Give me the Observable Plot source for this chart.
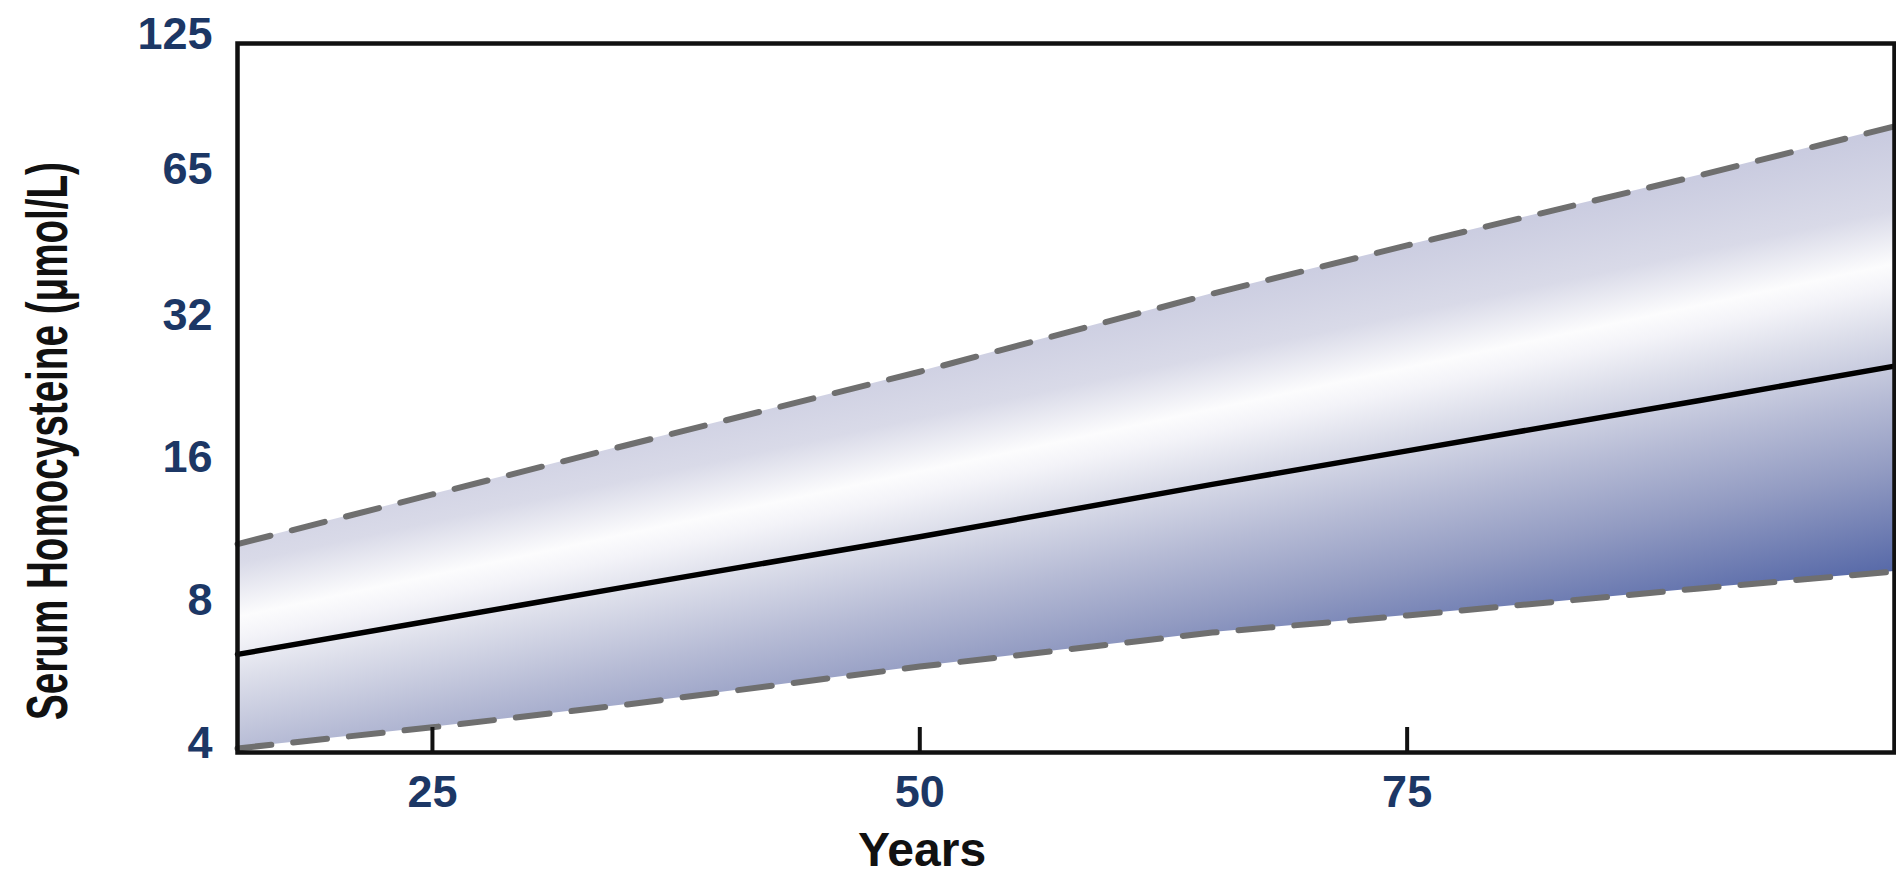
<!DOCTYPE html>
<html><head><meta charset="utf-8">
<script src="https://cdn.jsdelivr.net/npm/d3@7"></script>
<script src="https://cdn.jsdelivr.net/npm/@observablehq/plot@0.6"></script>
<style>html,body{margin:0;padding:0;background:#fff;} #chart svg{display:block}</style>
</head><body><div id="chart"></div>
<script>
// Data
const years = [15, 25, 35, 50, 65, 75, 90, 100];
const upper = [11.0, 14.0, 17.8, 25.4, 37.1, 46.9, 65.9, 83.6];
const mean  = [6.44, 7.59, 8.95, 11.4, 14.7, 17.3, 22.1, 26.1];
const lower = [4.08, 4.52, 5.05, 6.07, 7.16, 7.78, 8.87, 9.63];
const xTicks = [25, 50, 75];
const yTicks = [4, 8, 16, 32, 65, 125];
const yTickLabels = ["4", "8", "16", "32", "65", "125"];
const xTitle = "Years";
const yTitle = "Serum Homocysteine (μmol/L)";

const rows = years.map((yr, i) => ({year: yr, upper: upper[i], mean: mean[i], lower: lower[i]}));

const gradStops = [
  [0.00, "#c8cadf"], [0.19, "#d9dae8"], [0.31, "#fcfcfd"], [0.36, "#f3f3f8"],
  [0.45, "#dcdeea"], [0.61, "#b6bbd5"], [0.77, "#929bc2"], [1.00, "#5769a8"]
];

function bandGradient(index, scales) {
  const ns = "http://www.w3.org/2000/svg";
  const X = scales.x, Y = scales.y;
  const n = years.length - 1;
  const slope = ((Y(upper[n]) - Y(upper[0])) + (Y(mean[n]) - Y(mean[0]))) / 2 / (X(years[n]) - X(years[0]));
  const ang = Math.atan(slope);
  const dx = -Math.sin(ang), dy = Math.cos(ang);
  const ts = [];
  years.forEach((yr, i) => {
    ts.push(dx * X(yr) + dy * Y(upper[i]));
    ts.push(dx * X(yr) + dy * Y(lower[i]));
  });
  const t0 = Math.min(...ts), t1 = Math.max(...ts);
  const defs = document.createElementNS(ns, "defs");
  const lg = document.createElementNS(ns, "linearGradient");
  lg.setAttribute("id", "bandFill");
  lg.setAttribute("gradientUnits", "userSpaceOnUse");
  lg.setAttribute("x1", dx * t0); lg.setAttribute("y1", dy * t0);
  lg.setAttribute("x2", dx * t1); lg.setAttribute("y2", dy * t1);
  for (const [o, c] of gradStops) {
    const s = document.createElementNS(ns, "stop");
    s.setAttribute("offset", o);
    s.setAttribute("stop-color", c);
    lg.appendChild(s);
  }
  defs.appendChild(lg);
  return defs;
}

const frameH = 875 - 43 - 123;
const yTitleLength = 558;

const chart = Plot.plot({
  width: 1896,
  height: 875,
  marginTop: 43,
  marginBottom: 123,
  marginLeft: 237,
  marginRight: 2,
  style: {fontFamily: "'Liberation Sans', Arial, sans-serif", background: "white"},
  x: {domain: [15, 100]},
  y: {type: "log", domain: [4, 125]},
  marks: [
    bandGradient,
    Plot.areaY(rows, {x: "year", y1: "lower", y2: "upper", fill: "url(#bandFill)"}),
    Plot.line(rows, {x: "year", y: "lower", stroke: "#6f6f6f", strokeWidth: 6, strokeDasharray: "34,22"}),
    Plot.line(rows, {x: "year", y: "upper", stroke: "#6f6f6f", strokeWidth: 6, strokeDasharray: "34,22"}),
    Plot.line(rows, {x: "year", y: "mean", stroke: "#000", strokeWidth: 5.5}),
    Plot.frame({stroke: "#111", strokeWidth: 4.5}),
    Plot.tickX(xTicks, {x: d => d, insetTop: frameH - 25, stroke: "#111", strokeWidth: 4}),
    Plot.axisX(xTicks, {tickSize: 0, tickPadding: 23, fontSize: 45, fontWeight: "bold", fill: "#1c3765", label: null}),
    Plot.axisY(yTicks, {tickSize: 0, tickPadding: 25, dy: -9, fontSize: 45, fontWeight: "bold", fill: "#1c3765", label: null,
      tickFormat: d => yTickLabels[yTicks.indexOf(d)]}),
    Plot.text([xTitle], {frameAnchor: "bottom", dx: -144, dy: 79, lineAnchor: "top", textAnchor: "middle", text: d => d,
      fontSize: 48, fontWeight: "bold", fill: "#111"}),
    Plot.text([yTitle], {frameAnchor: "left", dx: -212, dy: 43, rotate: -90, lineAnchor: "top", textAnchor: "middle", text: d => d,
      fontSize: 58, fontWeight: "bold", fill: "#111", fontFamily: "'Liberation Sans Narrow', 'Liberation Sans', sans-serif"})
  ]
});

document.getElementById("chart").appendChild(chart);

// condense the y-axis title to the reference's length
for (const t of chart.querySelectorAll("text")) {
  if (t.textContent === yTitle) {
    const natural = t.getComputedTextLength();
    if (natural > 0) {
      const sx = yTitleLength / natural;
      const tr = t.getAttribute("transform") || "";
      t.setAttribute("transform", tr + ` scale(${sx},1)`);
    }
  }
}
</script>
</body></html>
